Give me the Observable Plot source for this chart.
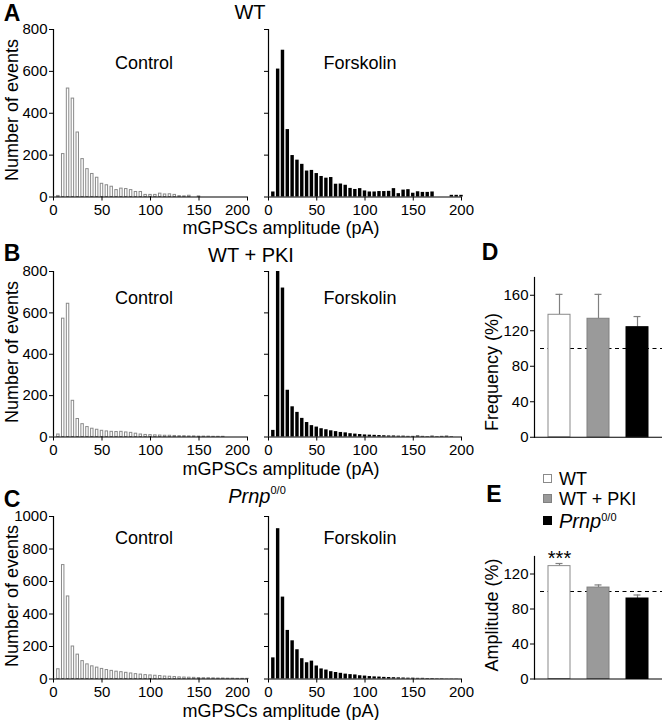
<!DOCTYPE html>
<html>
<head>
<meta charset="utf-8">
<script src="https://cdn.jsdelivr.net/npm/d3@7"></script>
<script src="https://cdn.jsdelivr.net/npm/@observablehq/plot@0.6"></script>
<style>
  html, body { margin:0; padding:0; background:#fff; }
  #fig { position:relative; width:662px; height:720px; overflow:hidden; background:#fff;
         font-family:"Liberation Sans", Arial, Helvetica, sans-serif; color:#000; }
  .t { position:absolute; white-space:nowrap; line-height:1; }
  .t sup { font-size:0.55em; font-style:normal; vertical-align:0.8em; line-height:0; }
  .t.leg { line-height:0.8; }
  .t.leg sup { vertical-align:0.6em; }
  .sq { position:absolute; width:7px; height:7px; border:1px solid; }
</style>
</head>
<body>
<div id="fig"></div>
<script>
// ---------- data ----------
// bin centres (pA), 5 pA wide bins
const binCenter = [5,10,15,20,25,30,35,40,45,50,55,60,65,70,75,80,85,90,95,100,
                   105,110,115,120,125,130,135,140,145,150,155,160,165,170,175,180,185,190,195,200];
const xTicks = [0,50,100,150,200];
const yTicks800 = [0,200,400,600,800];
const yTicks1000 = [0,200,400,600,800,1000];

const wtControl    = [5,205,518,470,308,181,133,110,92,63, 56,49,33,40,38,33,24,24,10,10,
                      10,16,12,13,10,4,3,6,0,3, 0,0,0,0,0,0,0,0,0,0];
const wtForskolin  = [24,611,701,322,198,176,156,124,127,112, 98,90,93,61,62,56,41,36,40,29,
                      24,24,26,26,27,40,16,33,35,18, 25,22,22,24,0,0,0,8,8,8];
const pkiControl   = [12,572,644,175,87,62,48,40,35,30, 27,25,24,25,22,20,16,12,10,9,
                      8,7,6,6,5,4,4,3,3,2, 2,2,1,1,1,0,0,0,0,0];
const pkiForskolin = [32,800,720,226,146,119,90,70,55,48, 40,35,30,26,22,20,16,14,12,10,
                      9,8,7,6,5,5,4,4,3,3, 5,3,2,4,2,3,4,2,0,0];
const prnpControl  = [60,701,508,200,150,110,90,78,70,62, 55,50,45,42,38,34,30,27,24,22,
                      20,18,15,14,12,10,9,8,7,6, 5,5,4,3,3,2,2,1,1,1];
const prnpForskolin= [130,925,504,299,235,180,125,100,110,80, 62,55,45,40,35,30,27,25,20,18,
                      15,13,12,10,9,8,7,6,5,5, 4,4,3,3,2,2,1,1,1,0];

const groups    = ["WT", "WT + PKI", "Prnp0/0"];
const freqMean  = [138, 133.5, 124];
const freqSem   = [23, 27.5, 12];
const ampMean   = [129, 104.5, 92];
const ampSem    = [3, 3, 4];
const ampStars  = ["***", "", ""];
const freqTicks = [0,40,80,120,160];
const ampTicks  = [0,40,80,120];
const legendLabels = ["WT", "WT + PKI", "<i>Prnp</i><sup>0/0</sup>"];

// ---------- styles ----------
const FONT = '"Liberation Sans", Arial, Helvetica, sans-serif';
const BIN_HALF = 2.5;
const groupFill   = {"WT": "#ffffff", "WT + PKI": "#9a9a9a", "Prnp0/0": "#000000"};
const groupStroke = {"WT": "#8a8a8a", "WT + PKI": "#808080", "Prnp0/0": "#000000"};

const fig = document.getElementById("fig");
function place(node, left, top) {
  node.style.position = "absolute";
  node.style.left = left + "px";
  node.style.top = top + "px";
  fig.appendChild(node);
}
function txt(html, x, y, {size = 18, weight = "normal", rotate = 0, anchor = "center", cls = ""} = {}) {
  const d = document.createElement("div");
  d.className = "t" + (cls ? " " + cls : "");
  d.innerHTML = html;
  d.style.left = x + "px";
  d.style.top = y + "px";
  d.style.fontSize = size + "px";
  d.style.fontWeight = weight;
  const tx = anchor === "center" ? "-50%" : "0";
  d.style.transform = `translate(${tx},-50%)` + (rotate ? ` rotate(${rotate}deg)` : "");
  fig.appendChild(d);
}

const baseStyle = {fontFamily: FONT, fontSize: "15px", color: "#000", background: "transparent", overflow: "visible"};

function hist(counts, o) {
  const mL = o.labels ? 48 : 12, mR = 10, mT = 8, mB = 28;
  const rows = binCenter.map((c, i) => ({c, count: counts[i]})).filter(d => d.count > 0);
  const marks = [
    Plot.rectY(rows, {x1: d => d.c - BIN_HALF, x2: d => d.c + BIN_HALF, y: "count",
                      fill: o.fill, stroke: o.stroke, strokeWidth: o.sw,
                      insetLeft: o.inset, insetRight: o.inset}),
    Plot.ruleY([0], {strokeWidth: 1.2}),
    Plot.ruleX([0], {strokeWidth: 1.2}),
    Plot.axisY({ticks: o.yTicks, tickSize: 4, tickPadding: 2, label: null,
                tickFormat: o.labels ? (d => String(d)) : (() => "")})
  ];
  if (o.shiftLast) {
    marks.push(Plot.axisX({ticks: xTicks, tickSize: 4, tickPadding: 3, label: null,
                           tickFormat: d => d === 200 ? "" : String(d)}));
    marks.push(Plot.axisX({ticks: [200], tickSize: 0, tickPadding: 7, dx: -10, label: null}));
  } else {
    marks.push(Plot.axisX({ticks: xTicks, tickSize: 4, tickPadding: 3, label: null}));
  }
  const svg = Plot.plot({
    width: mL + (o.right - o.left) + mR,
    height: mT + (o.bottom - o.top) + mB,
    marginLeft: mL, marginRight: mR, marginTop: mT, marginBottom: mB,
    style: baseStyle,
    x: {domain: [0, 200]},
    y: {domain: [0, o.yMax]},
    marks
  });
  place(svg, o.left - mL, o.top - mT);
}

const CTRL = {left: 53, right: 247, labels: true, fill: "#fff", stroke: "#8a8a8a", sw: 1, inset: 1.2, shiftLast: true};
const FORS = {left: 268, right: 461, labels: false, fill: "#000", stroke: "none", sw: 0, inset: 0.7, shiftLast: false};
const rowA = {top: 29, bottom: 196.5, yMax: 800, yTicks: yTicks800};
const rowB = {top: 271, bottom: 436.5, yMax: 800, yTicks: yTicks800};
const rowC = {top: 516, bottom: 678.5, yMax: 1000, yTicks: yTicks1000};

hist(wtControl, {...CTRL, ...rowA});
hist(wtForskolin, {...FORS, ...rowA});
hist(pkiControl, {...CTRL, ...rowB});
hist(pkiForskolin, {...FORS, ...rowB});
hist(prnpControl, {...CTRL, ...rowC});
hist(prnpForskolin, {...FORS, ...rowC});

function bars(means, sems, o) {
  const rows = groups.map((g, i) => ({group: g, mean: means[i], hi: means[i] + sems[i], star: o.stars ? o.stars[i] : ""}));
  const left = 534, right = 662;
  const mL = 42, mR = 0, mT = o.mT, mB = 22;
  const marks = [
    Plot.ruleY([100], {strokeDasharray: "4,3.5", strokeWidth: 1.1, insetLeft: 6}),
    Plot.ruleX(rows, {x: "group", y1: "mean", y2: "hi", stroke: "#808080", strokeWidth: 1.2}),
    Plot.tickY(rows, {x: "group", y: "hi", stroke: "#808080", strokeWidth: 1.2, insetLeft: 7.5, insetRight: 7.5}),
    Plot.barY(rows, {x: "group", y: "mean", fill: d => groupFill[d.group], stroke: d => groupStroke[d.group], strokeWidth: 1}),
    Plot.ruleY([0], {strokeWidth: 1.2}),
    Plot.frame({anchor: "left", strokeWidth: 1.2}),
    Plot.axisY({ticks: o.ticks, tickSize: 4, tickPadding: 2, label: null})
  ];
  if (o.stars) marks.push(Plot.text(rows, {x: "group", y: "hi", text: "star", dy: -5, fontSize: 20}));
  const svg = Plot.plot({
    width: mL + (right - left) + mR,
    height: mT + (o.bottom - o.top) + mB,
    marginLeft: mL, marginRight: mR, marginTop: mT, marginBottom: mB,
    style: baseStyle,
    color: {type: "identity"},
    x: {type: "band", domain: groups, paddingInner: 0.436, paddingOuter: 0.35, axis: null},
    y: {domain: [0, o.yMax]},
    marks
  });
  place(svg, left - mL, o.top - mT);
}

bars(freqMean, freqSem, {top: 277.25, bottom: 437, yMax: 180, ticks: freqTicks, mT: 6});
bars(ampMean, ampSem, {top: 555.8, bottom: 678.3, yMax: 140, ticks: ampTicks, mT: 20, stars: ampStars});

// ---------- text ----------
txt("A", 12, 13, {size: 23, weight: "bold"});
txt("B", 12, 253, {size: 23, weight: "bold"});
txt("C", 12, 499, {size: 23, weight: "bold"});
txt("D", 490, 252, {size: 23, weight: "bold"});
txt("E", 494, 494, {size: 23, weight: "bold"});

txt("WT", 250, 12, {size: 20});
txt("WT + PKI", 251, 255, {size: 20});
txt("<i>Prnp</i><sup>0/0</sup>", 257, 496, {size: 20});

for (const y of [63, 298, 538]) {
  txt("Control", 144, y, {size: 18});
  txt("Forskolin", 360, y, {size: 18});
}
for (const y of [228, 468.5, 710.5]) txt("mGPSCs amplitude (pA)", 281, y, {size: 18});
for (const y of [110, 352, 596]) txt("Number of events", 12, y, {size: 18, rotate: -90});

txt("Frequency (%)", 492, 372, {size: 18, rotate: -90});
txt("Amplitude (%)", 492, 615, {size: 18, rotate: -90});

// legend
const legY = [478.5, 498.5, 520.5];
groups.forEach((g, i) => {
  const s = document.createElement("div");
  s.className = "sq";
  s.style.left = "543px";
  s.style.top = (legY[i] - 4.5) + "px";
  s.style.background = groupFill[g];
  s.style.borderColor = groupStroke[g];
  fig.appendChild(s);
  txt(legendLabels[i], 559, legY[i], {size: i === 2 ? 20 : 18, anchor: "left", cls: "leg"});
});
</script>
</body>
</html>
